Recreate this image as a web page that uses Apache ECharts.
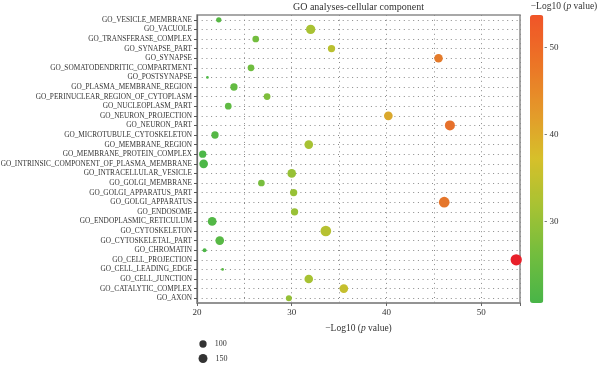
<!DOCTYPE html>
<html>
<head>
<meta charset="utf-8">
<script src="https://cdn.jsdelivr.net/npm/echarts@6/dist/echarts.min.js"></script>
<style>
  html, body { margin: 0; padding: 0; background: #ffffff; }
  #chart { width: 600px; height: 365px; }
</style>
</head>
<body>
<div id="chart"></div>
<script>
// ---- data (top to bottom) ----
const categories = [
  'GO_VESICLE_MEMBRANE', 'GO_VACUOLE', 'GO_TRANSFERASE_COMPLEX', 'GO_SYNAPSE_PART',
  'GO_SYNAPSE', 'GO_SOMATODENDRITIC_COMPARTMENT', 'GO_POSTSYNAPSE',
  'GO_PLASMA_MEMBRANE_REGION', 'GO_PERINUCLEAR_REGION_OF_CYTOPLASM',
  'GO_NUCLEOPLASM_PART', 'GO_NEURON_PROJECTION', 'GO_NEURON_PART',
  'GO_MICROTUBULE_CYTOSKELETON', 'GO_MEMBRANE_REGION', 'GO_MEMBRANE_PROTEIN_COMPLEX',
  'GO_INTRINSIC_COMPONENT_OF_PLASMA_MEMBRANE', 'GO_INTRACELLULAR_VESICLE',
  'GO_GOLGI_MEMBRANE', 'GO_GOLGI_APPARATUS_PART', 'GO_GOLGI_APPARATUS',
  'GO_ENDOSOME', 'GO_ENDOPLASMIC_RETICULUM', 'GO_CYTOSKELETON', 'GO_CYTOSKELETAL_PART',
  'GO_CHROMATIN', 'GO_CELL_PROJECTION', 'GO_CELL_LEADING_EDGE', 'GO_CELL_JUNCTION',
  'GO_CATALYTIC_COMPLEX', 'GO_AXON'
];
const negLog10P = [
  22.3, 32.0, 26.2, 34.2,
  45.5, 25.7, 21.1,
  23.9, 27.4,
  23.3, 40.2, 46.7,
  21.9, 31.8, 20.6,
  20.7, 30.0,
  26.8, 30.2, 46.1,
  30.3, 21.6, 33.6, 22.4,
  20.8, 53.7, 22.7, 31.8,
  35.5, 29.7
];
const geneCounts = [
  53, 162, 84, 100,
  136, 84, 14,
  100, 84,
  84, 142, 188,
  100, 142, 100,
  142, 140,
  84, 100, 215,
  100, 142, 215, 142,
  30, 240, 14, 140,
  142, 68
];
const sizeBreaks = [100, 150];
const xLabelValues = [20, 30, 40, 50];
const colorTickValues = [30, 40, 50];

// ---- styling ----
const SERIF = '"Liberation Serif", "DejaVu Serif", serif';
const colorMin = Math.min(...negLog10P);
const colorMax = Math.max(...negLog10P);
const dotColors = ['#4cb748', '#72bd3e', '#a6c233', '#d2be2c', '#e0962c', '#e8622a', '#e8202a'];
const barColors = ['#48b548', '#72bd3e', '#a6c233', '#d6c02a', '#e4982a', '#ec7426', '#f05428'];
const sizeOf = v => 0.73 * Math.sqrt(v);
const dotted = { color: '#8a8a8a', width: 1, type: [1, 3.7] };

const dotData = categories.map((c, i) => [negLog10P[i], c, geneCounts[i]]);

const option = {
  animation: false,
  backgroundColor: '#ffffff',
  textStyle: { fontFamily: SERIF },
  title: [
    {
      text: 'GO analyses-cellular component',
      left: 358.5, top: 2, padding: 0, textAlign: 'center',
      textStyle: { fontFamily: SERIF, fontSize: 10, fontWeight: 'normal', color: '#333' }
    },
    {
      text: '\u2212Log10 ({i|p} value)',
      left: 564, top: 1, padding: 0, textAlign: 'center',
      textStyle: {
        fontFamily: SERIF, fontSize: 9.5, fontWeight: 'normal', color: '#333',
        rich: { i: { fontFamily: SERIF, fontSize: 9.5, fontStyle: 'italic', color: '#333' } }
      }
    }
  ],
  grid: [
    { left: 197, top: 15, width: 323, height: 288, show: true, borderColor: '#8c8c8c', borderWidth: 1.5,
      containLabel: false, outerBoundsMode: 'none' },
    { left: 530, top: 15, width: 13.3, height: 288, show: false, containLabel: false, outerBoundsMode: 'none' }
  ],
  xAxis: [
    {
      type: 'value', gridIndex: 0, min: 20, max: 54.1, interval: 10,
      name: '\u2212Log10 ({i|p} value)', nameLocation: 'middle', nameGap: 20,
      nameTextStyle: {
        fontFamily: SERIF, fontSize: 9.5, color: '#333',
        rich: { i: { fontFamily: SERIF, fontSize: 9.5, fontStyle: 'italic', color: '#333' } }
      },
      axisLine: { show: true, lineStyle: { color: '#8c8c8c', width: 1.5 } },
      axisTick: { show: true, length: 3, lineStyle: { color: '#666' } },
      axisLabel: {
        fontFamily: SERIF, fontSize: 9, color: '#333', margin: 5,
        formatter: v => (xLabelValues.indexOf(Math.round(v * 10) / 10) >= 0 ? String(v) : '')
      },
      splitLine: { show: true, lineStyle: dotted },
      minorTick: { show: false, splitNumber: 2 },
      minorSplitLine: { show: true, lineStyle: dotted }
    },
    { type: 'value', gridIndex: 1, min: 0, max: 1, show: false }
  ],
  yAxis: [
    {
      type: 'category', gridIndex: 0, data: categories, inverse: true, boundaryGap: true,
      axisLine: { show: true, lineStyle: { color: '#6a6a6a', width: 1.2 } },
      axisTick: { show: true, alignWithLabel: true, length: 3, lineStyle: { color: '#555' } },
      axisLabel: { fontFamily: SERIF, fontSize: 7.3, color: '#333', margin: 5, interval: 0 },
      splitLine: { show: true, alignWithLabel: true, lineStyle: dotted, interval: 0 }
    },
    {
      type: 'value', gridIndex: 1, min: colorMin, max: colorMax, position: 'right',
      axisLine: { show: false }, axisTick: { show: false }, splitLine: { show: false },
      axisLabel: {
        fontFamily: SERIF, fontSize: 9, color: '#333', margin: 1,
        formatter: v => (colorTickValues.indexOf(v) >= 0 ? '- ' + v : '')
      }
    }
  ],
  visualMap: [
    {
      type: 'continuous', show: false, seriesIndex: 0, dimension: 0,
      min: colorMin, max: colorMax, inRange: { color: dotColors }
    },
    {
      type: 'continuous', show: true, seriesIndex: 1, dimension: 0,
      min: colorMin, max: colorMax, inRange: { color: barColors },
      orient: 'vertical', left: 530, top: 15, padding: 0,
      itemWidth: 13.3, itemHeight: 288, calculable: false, text: null,
      showLabel: false, hoverLink: false
    }
  ],
  legend: sizeBreaks.map((b, k) => ({
    data: [String(b)],
    orient: 'vertical',
    left: 203 - sizeOf(b) / 2,
    top: [340, 354][k],
    padding: 0,
    icon: 'circle',
    itemWidth: sizeOf(b),
    itemHeight: sizeOf(b),
    selectedMode: false,
    textStyle: { fontFamily: SERIF, fontSize: 8, color: '#333', padding: [0, 0, 0, 3] }
  })),
  series: [
    {
      type: 'scatter', xAxisIndex: 0, yAxisIndex: 0,
      data: dotData,
      symbol: 'circle',
      symbolSize: d => sizeOf(d[2]),
      itemStyle: { opacity: 1 }
    },
    {
      type: 'scatter', xAxisIndex: 1, yAxisIndex: 1, data: [], silent: true
    }
  ].concat(sizeBreaks.map(b => ({
    name: String(b), type: 'scatter', xAxisIndex: 0, yAxisIndex: 0,
    data: [], itemStyle: { color: '#000' }
  })))
};

const chart = echarts.init(document.getElementById('chart'), null, { renderer: 'canvas' });
chart.setOption(option);
</script>
</body>
</html>
